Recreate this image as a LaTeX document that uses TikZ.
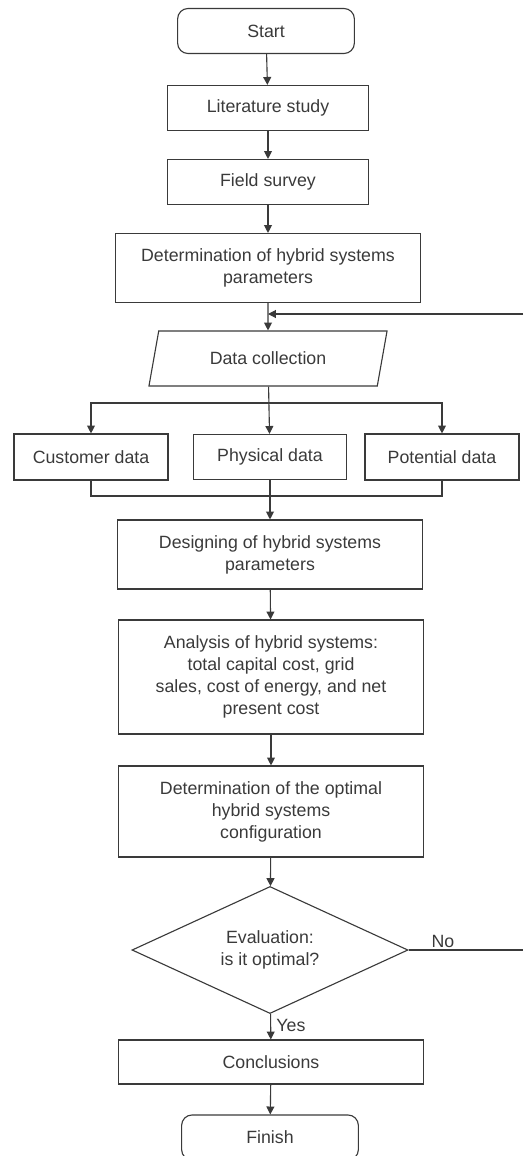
\documentclass[tikz,border=0pt]{standalone}
\usepackage{fontspec}
\setmainfont{Liberation Sans}
\usetikzlibrary{shapes.geometric,arrows.meta}
\definecolor{ink}{HTML}{3A3A3A}
\begin{document}
\begin{tikzpicture}[x=0.58pt,y=-0.58pt,line width=0.65pt,draw=ink,
  every node/.style={text=ink,font=\fontsize{10.3}{12.8}\selectfont,align=center,inner sep=1pt},
  box/.style={draw=ink,rectangle,minimum width=176.9pt},
  term/.style={draw=ink,rectangle,rounded corners=6pt,minimum width=102.5pt,minimum height=26.1pt},
  io/.style={draw=ink,trapezium,trapezium left angle=72,trapezium right angle=108,trapezium stretches=true,minimum width=139.2pt,minimum height=31.9pt},
  dec/.style={draw=ink,diamond,aspect=2.17,inner sep=0pt,minimum width=160.1pt,minimum height=73.7pt},
  arr/.style={draw=ink,-{Triangle[length=4.6pt,width=4.6pt]}}]
\useasboundingbox (0,0) rectangle (523,1156);
\clip (0,0) rectangle (523,1156);
\node[term] (start) at (266,31) {Start};
\node[box,minimum width=116.6pt,minimum height=26.1pt] (lit) at (268,108) {Literature study};
\node[box,minimum width=116.6pt,minimum height=26.1pt] (field) at (268,182) {Field survey};
\node[box,minimum height=40pt] (detpar) at (268,268) {Determination of hybrid systems\\parameters};
\node[io] (collect) at (268,358.5) {Data collection};
\node[box,minimum width=89.3pt,minimum height=26.7pt] (cust) at (91,457) {Customer data};
\node[box,minimum width=88.7pt,minimum height=26.1pt] (phys) at (270,457) {Physical data};
\node[box,minimum width=89.3pt,minimum height=26.7pt] (pot) at (442,457) {Potential data};
\node[box,minimum height=40pt] (design) at (270,554.5) {Designing of hybrid systems\\parameters};
\node[box,minimum height=66.1pt] (analysis) at (271,677) {Analysis of hybrid systems:\\total capital cost, grid\\sales, cost of energy, and net\\present cost};
\node[box,minimum height=52.8pt] (optimal) at (271,811.5) {Determination of the optimal\\hybrid systems\\configuration};
\node[dec] (eval) at (270,950) {Evaluation:\\is it optimal?};
\node[box,minimum height=25.5pt] (concl) at (271,1062) {Conclusions};
\node[term] (finish) at (270,1137.5) {Finish};
\coordinate (split) at (268,403);
\coordinate (join) at (270,496);
\coordinate (back) at (523,314);
\coordinate (noend) at (523,950);
\draw[arr] (start) -- (lit);
\draw[arr] (lit) -- (field);
\draw[arr] (field) -- (detpar);
\draw[arr] (detpar) -- (collect);
\draw[arr] (back) -- (detpar.south |- back);
\draw[arr] (collect) -- (phys);
\draw[arr] (split) -| (cust.north);
\draw[arr] (split) -| (pot.north);
\draw (cust.south) |- (join);
\draw (pot.south) |- (join);
\draw[arr] (phys) -- (design);
\draw[arr] (design) -- (analysis);
\draw[arr] (analysis) -- (optimal);
\draw[arr] (optimal) -- (eval);
\draw (eval.east) -- node[above,pos=0.3] (no) {No} (noend);
\draw[arr] (eval) -- node[right,pos=0.45,xshift=2pt] (yes) {Yes} (concl);
\draw[arr] (concl) -- (finish);
\end{tikzpicture}
\end{document}
